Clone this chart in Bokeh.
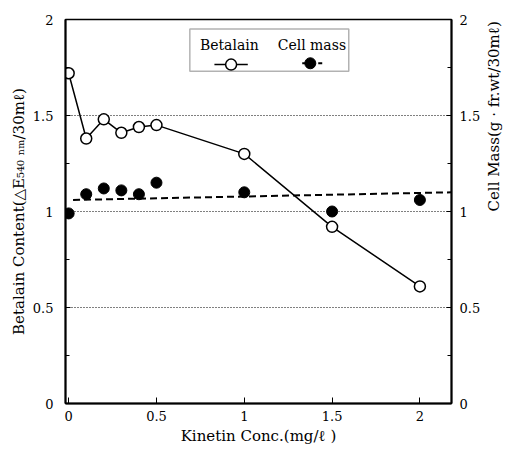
import math
from bokeh.plotting import figure
from bokeh.models import (Range1d, LinearAxis, SingleIntervalTicker, FixedTicker,
                          Label, BoxAnnotation)
from bokeh.embed import file_html
from bokeh.resources import INLINE

# ---- data ----
kinetin = [0.0, 0.1, 0.2, 0.3, 0.4, 0.5, 1.0, 1.5, 2.0]
betalain = [1.72, 1.38, 1.48, 1.41, 1.44, 1.45, 1.30, 0.92, 0.61]
cell_mass = [0.99, 1.09, 1.12, 1.11, 1.09, 1.15, 1.10, 1.00, 1.06]
trend_x = [0.025, 2.18]
trend_y = [1.06, 1.10]
x_ticks = [0, 0.5, 1, 1.5, 2]
grid_levels = [0.5, 1, 1.5]

FONT = "DejaVu Serif"

p = figure(width=515, height=452,
           x_range=Range1d(-0.018, 2.18), y_range=Range1d(0, 2),
           output_backend="svg", toolbar_location=None,
           min_border_left=65, min_border_right=56,
           min_border_top=19, min_border_bottom=49)

p.background_fill_color = "white"
p.outline_line_color = "black"
p.outline_line_width = 1.5

# x axis
p.xaxis.ticker = FixedTicker(ticks=x_ticks)
p.xaxis.major_tick_in = 6
p.xaxis.major_tick_out = 0
p.xaxis.minor_tick_line_color = None
p.xaxis.axis_line_width = 2
p.xaxis.major_label_standoff = 7
p.xaxis.major_label_text_font = FONT
p.xaxis.major_label_text_font_size = "13px"
p.xaxis.major_label_text_color = "black"
p.xaxis.axis_label = "Kinetin Conc.(mg/ℓ )"
p.xaxis.axis_label_standoff = 3
p.xaxis.axis_label_text_font = FONT
p.xaxis.axis_label_text_font_style = "normal"
p.xaxis.axis_label_text_font_size = "15px"
p.xaxis.axis_label_text_color = "black"

# y axes
def style_y(ax):
    ax.ticker = SingleIntervalTicker(interval=0.5, num_minor_ticks=2)
    ax.major_tick_in = 5
    ax.major_tick_out = 0
    ax.minor_tick_in = 4
    ax.minor_tick_out = 0
    ax.axis_line_width = 2
    ax.major_label_text_font = FONT
    ax.major_label_text_font_size = "13px"
    ax.major_label_text_color = "black"
    ax.axis_label_text_font = FONT
    ax.axis_label_text_font_style = "normal"
    ax.axis_label_text_font_size = "15px"
    ax.axis_label_text_color = "black"

left = p.yaxis[0]
style_y(left)
left.major_label_standoff = 12
left.axis_label = "Betalain Content(△E₅₄₀ ₙₘ/30mℓ)"
left.axis_label_standoff = 2

right_axis = LinearAxis()
style_y(right_axis)
right_axis.major_label_standoff = 8
right_axis.axis_label = "Cell Mass(g · fr.wt/30mℓ)"
right_axis.axis_label_standoff = 11
right_axis.axis_label_orientation = math.pi / 2
p.add_layout(right_axis, "right")

# grid
p.xgrid.visible = False
p.ygrid.ticker = FixedTicker(ticks=grid_levels)
p.ygrid.grid_line_color = "black"
p.ygrid.grid_line_dash = "1 2"
p.ygrid.grid_line_width = 1

# data
p.line(trend_x, trend_y, line_color="black", line_width=2, line_dash="7 4")
p.line(kinetin, betalain, line_color="black", line_width=1.5)
p.scatter(kinetin, betalain, marker="circle", size=11, fill_color="white",
          line_color="black", line_width=1.5)
p.scatter(kinetin, cell_mass, marker="circle", size=11, fill_color="black",
          line_color="black")

# legend (drawn by hand, label above sample)
box = BoxAnnotation(left=0.69, right=1.595, bottom=1.73, top=1.95,
                    fill_alpha=0, line_color="black", line_width=1.5)
p.add_layout(box)
p.line([0.83, 1.02], [1.765, 1.765], line_color="black", line_width=1.5)
p.scatter([0.925], [1.765], marker="circle", size=11, fill_color="white",
          line_color="black", line_width=1.5)
p.line([1.33, 1.465], [1.772, 1.772], line_color="black", line_width=2, line_dash="4 4")
p.scatter([1.376], [1.772], marker="circle", size=11, fill_color="black",
          line_color="black")
for txt, xx in [("Betalain", 0.915), ("Cell mass", 1.385)]:
    p.add_layout(Label(x=xx, y=1.865, text=txt, text_align="center",
                       text_baseline="middle", text_font=FONT,
                       text_font_size="14px", text_color="black"))

open("out.html", "w").write(file_html(p, INLINE))
